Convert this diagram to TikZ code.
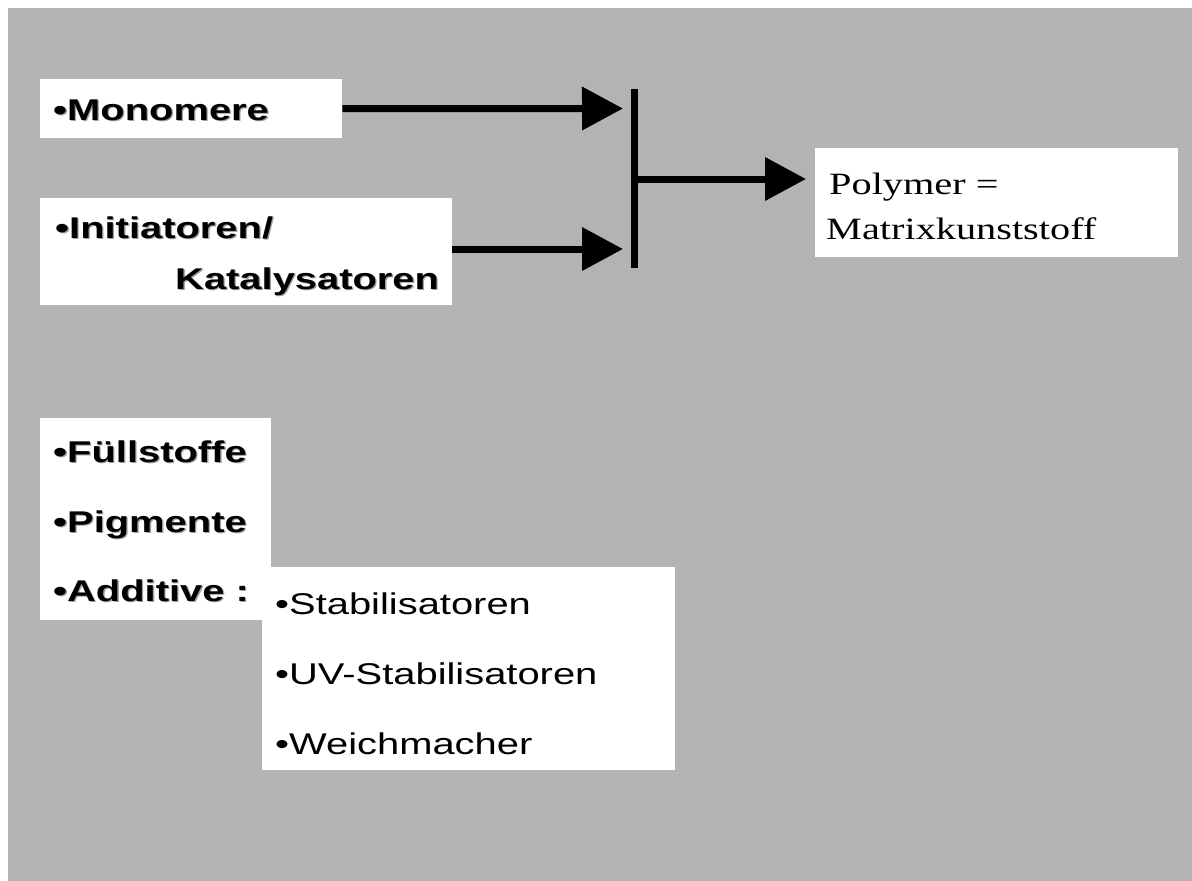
\documentclass[tikz,border=0pt]{standalone}
\usepackage{fontspec}
\setmainfont{Liberation Sans}[FakeStretch=1.33]
\newfontfamily\timesf{Liberation Serif}[FakeStretch=1.3]
\usetikzlibrary{arrows.meta}
\definecolor{slidegrey}{HTML}{B3B3B3}
\definecolor{shadowgrey}{HTML}{A0A0A0}
\tikzset{
  box/.style={fill=white, draw=none, inner sep=0pt, anchor=north west},
  lblb/.style={anchor=base west, inner sep=0pt, font=\fontsize{30}{36}\selectfont\bfseries},
  lblbs/.style={lblb, text=shadowgrey, xshift=1.3pt, yshift=-1.3pt},
  lblr/.style={anchor=base west, inner sep=0pt, font=\fontsize{30}{36}\selectfont},
  lblt/.style={anchor=base west, inner sep=0pt, font=\fontsize{31}{36}\selectfont\timesf},
  arr/.style={line width=7pt, -{Triangle[length=41pt,width=42pt]}},
  barline/.style={line width=7pt}
}
\newcommand{\boldlabel}[3]{%
  \node[lblbs] (#1s) at #2 {#3};
  \node[lblb] (#1) at #2 {#3};}
\begin{document}
\begin{tikzpicture}[x=1pt,y=-1pt]
\useasboundingbox (0,0) rectangle (1192,881);
\fill[white] (0,0) rectangle (1192,881);
\fill[slidegrey] (8,8) rectangle (1192,881);
% boxes
\node[box, minimum width=302pt, minimum height=59pt] (mono) at (40,79) {};
\node[box, minimum width=412pt, minimum height=107pt] (init) at (40,198) {};
\node[box, minimum width=363pt, minimum height=109pt] (poly) at (815,148) {};
\node[box, minimum width=231pt, minimum height=202pt] (fill) at (40,418) {};
\node[box, minimum width=413pt, minimum height=203pt] (addi) at (262,567) {};
% texts
\boldlabel{monot}{(53,120)}{•Monomere}
\boldlabel{initt}{(55,238)}{•Initiatoren/}
\boldlabel{katt}{(175,289)}{Katalysatoren}
\node[lblt] (polyt) at (829,194) {Polymer =};
\node[lblt] (matt) at (826,239) {Matrixkunststoff};
\boldlabel{fuet}{(53,462)}{•Füllstoffe}
\boldlabel{pigt}{(53,532)}{•Pigmente}
\boldlabel{addt}{(53,601)}{•Additive :}
\node[lblr] (stabt) at (275,614) {•Stabilisatoren};
\node[lblr] (uvt) at (275,684) {•UV-Stabilisatoren};
\node[lblr] (weit) at (275,754) {•Weichmacher};
% connectors
\coordinate (bartop) at (634,89);
\coordinate (barbot) at (634,268);
\coordinate (barmid) at (634,179);
\coordinate (mtip) at (623,108.5);
\coordinate (itip) at (623,249);
\coordinate (ptip) at (806,179);
\draw[barline] (bartop) -- (barbot);
\draw[arr] (mono.east) -- (mtip);
\draw[arr] (init.east |- itip) -- (itip);
\draw[arr] (barmid) -- (ptip);
\end{tikzpicture}
\end{document}
